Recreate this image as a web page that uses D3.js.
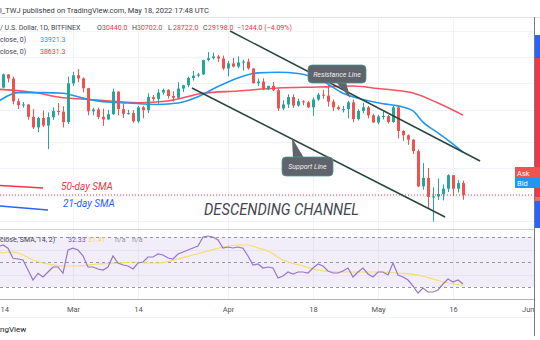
<!DOCTYPE html>
<html><head><meta charset="utf-8">
<script src="https://cdn.jsdelivr.net/npm/d3@7"></script>
<style>body{margin:0;background:#fff}svg{display:block;font-family:Roboto,"Open Sans",Arial,sans-serif}</style>
</head><body><svg id="c" width="540" height="340"></svg>
<script>
const dates = ["2022-02-14","2022-02-15","2022-02-16","2022-02-17","2022-02-18","2022-02-19","2022-02-20","2022-02-21","2022-02-22","2022-02-23","2022-02-24","2022-02-25","2022-02-26","2022-02-27","2022-02-28",
"2022-03-01","2022-03-02","2022-03-03","2022-03-04","2022-03-05","2022-03-06","2022-03-07","2022-03-08","2022-03-09","2022-03-10","2022-03-11","2022-03-12","2022-03-13","2022-03-14","2022-03-15","2022-03-16","2022-03-17","2022-03-18","2022-03-19","2022-03-20","2022-03-21","2022-03-22","2022-03-23","2022-03-24","2022-03-25","2022-03-26","2022-03-27","2022-03-28","2022-03-29","2022-03-30","2022-03-31",
"2022-04-01","2022-04-02","2022-04-03","2022-04-04","2022-04-05","2022-04-06","2022-04-07","2022-04-08","2022-04-09","2022-04-10","2022-04-11","2022-04-12","2022-04-13","2022-04-14","2022-04-15","2022-04-16","2022-04-17","2022-04-18","2022-04-19","2022-04-20","2022-04-21","2022-04-22","2022-04-23","2022-04-24","2022-04-25","2022-04-26","2022-04-27","2022-04-28","2022-04-29","2022-04-30",
"2022-05-01","2022-05-02","2022-05-03","2022-05-04","2022-05-05","2022-05-06","2022-05-07","2022-05-08","2022-05-09","2022-05-10","2022-05-11","2022-05-12","2022-05-13","2022-05-14","2022-05-15","2022-05-16","2022-05-17","2022-05-18"];
const opens = [42060,42540,44560,43900,40550,40000,40100,38400,37000,38250,37250,38350,39200,39100,37700,
43190,44420,43920,42450,39150,39400,38400,38050,38750,41950,39450,38800,38900,37800,39700,39300,41150,40900,41800,42200,41300,41050,42400,42900,44000,44350,44550,46850,47150,47450,47100,
45500,46300,45800,46450,46600,45500,43200,43450,42300,42800,42150,39550,40100,41150,39950,40550,40400,39700,40800,41500,41350,40500,39700,39450,39450,40400,38100,39200,39700,38600,
37650,38450,38500,37700,39700,36550,36000,35450,34050,30100,31000,29000,29050,29300,29850,31300,29850,30440];
const highs = [42800,44700,44600,44200,40950,40450,40150,39450,38400,39250,39000,39700,40300,39850,44200,
44950,45400,44100,42500,39650,39650,39500,39350,42400,42000,40250,39350,39300,39900,39900,41700,41450,42300,42400,42300,42000,43350,42950,44200,45100,44800,46900,48200,48100,47700,47600,
46700,47200,47450,46900,47100,45500,43900,43950,42800,43400,42400,40700,41550,41550,40900,40700,40600,41100,41750,42200,42900,40800,39950,39900,40600,40800,39450,40350,39900,38800,
38650,39150,38650,39900,39800,36650,36100,35500,34250,32650,32100,30000,30950,30300,31400,31300,30750,30702];
const lows = [41570,42430,43320,40100,39450,39650,38000,36800,36400,37050,34300,38000,38600,37000,37450,
42800,43350,41850,38600,38600,38100,37200,38000,38650,38600,38250,38700,37600,37600,38200,38900,40550,40150,41500,40950,40500,40900,41900,42600,43600,44100,44450,46650,46950,46550,45250,
44250,45650,45550,45150,45300,43150,42750,42150,42150,42000,39200,39300,39600,39600,39800,40000,39600,38550,40600,40900,39800,39200,39300,39000,38200,37700,37900,38900,38200,37600,
37400,38050,37500,37600,35600,35300,34800,33700,30000,29750,27800,26600,28700,28650,29500,29100,29450,28722];
const closes = [42540,44560,43900,40550,40000,40100,38400,37000,38250,37250,38350,39200,39100,37700,43190,
44420,43920,42450,39150,39400,38400,38050,38750,41950,39450,38800,38900,37800,39700,39300,41150,40900,41800,42200,41300,41050,42400,42900,44000,44350,44550,46850,47150,47450,47100,45500,
46300,45800,46450,46600,45500,43200,43450,42300,42800,42150,39550,40100,41150,39950,40550,40400,39700,40800,41500,41350,40500,39700,39450,39450,40400,38100,39200,39700,38600,37650,
38450,38500,37700,39700,36550,36000,35450,34050,30100,31000,29000,29050,29300,29850,31300,29850,30440,29198];

const sma21Dates = ["2022-02-14","2022-02-18","2022-02-23","2022-02-27","2022-03-03","2022-03-07","2022-03-12","2022-03-18","2022-03-22","2022-03-26","2022-03-30","2022-04-03","2022-04-07","2022-04-11","2022-04-15","2022-04-20","2022-04-24","2022-04-28","2022-05-02","2022-05-05","2022-05-08","2022-05-10","2022-05-13","2022-05-16","2022-05-18"];
const sma21Values = [40500,41800,41800,41700,41000,40500,40300,40100,40300,41200,42700,44000,44800,44900,44700,43500,41700,40800,40200,39900,39200,37700,36300,34900,33921];
const sma50Dates = ["2022-02-14","2022-02-22","2022-02-26","2022-03-06","2022-03-14","2022-03-20","2022-03-27","2022-04-03","2022-04-11","2022-04-19","2022-04-26","2022-05-01","2022-05-04","2022-05-08","2022-05-13","2022-05-18"];
const sma50Values = [42300,41740,41160,40730,40350,40600,41700,42040,42480,42630,42780,42400,42180,41740,40300,38631];

const rsiValues = [62,63.6,61,53,52.4,51.6,43.6,35.6,41,38,42,46,46,41,59.6,
61,59.6,55,46,46,44.4,43.6,46,54.8,49.2,47.6,46.8,44.4,49.2,50,54,54,56.4,55.6,53.2,52.4,56.4,58,59.6,61.2,62.8,70,70.8,70,67.6,61.2,
62,61.2,62,61,54.8,47.6,48.4,45.2,46,45.2,37.2,38.8,42,40.4,42,42,41.2,45.2,48.4,46.8,42.8,41.2,41.2,42.8,45.2,38,42,45.2,40.4,38,
42,42,39.6,49.2,39.6,38,35.6,30.8,25.2,29.2,26,26,27.6,32.4,36.4,34,35.6,32.33];
const rsiSmaDates = ["2022-02-14","2022-02-17","2022-02-19","2022-02-21","2022-02-24","2022-02-27","2022-03-02","2022-03-06","2022-03-10","2022-03-13","2022-03-16","2022-03-18","2022-03-22","2022-03-25","2022-03-28","2022-03-31","2022-04-03","2022-04-05","2022-04-07","2022-04-09","2022-04-12","2022-04-16","2022-04-19","2022-04-23","2022-04-27","2022-05-01","2022-05-05","2022-05-09","2022-05-12","2022-05-14","2022-05-18"];
const rsiSmaValues = [57.2,58,55.6,51.6,48.4,46.8,46.8,48.4,49.2,50,49.2,49.2,52.4,55.6,58.8,62,63.6,63.6,61.2,58.8,51.6,46.8,43.6,42,42,42,41.2,39.6,36.4,34,31.41];
const rsiLevels = [70,50,30];
const rsiGrid = [60,40];

const timeTicks = ["2022-02-14","2022-03-01","2022-03-14","2022-04-01","2022-04-18","2022-05-01","2022-05-16","2022-06-01"];
const timeLabels = ["14","Mar","14","Apr","18","May","16","Jun"];
const priceGrid = [26650,29100,32100,35150,39300,43250,47350,51950];

const resistance = {from:["2022-04-01T10:00:00Z",51870], to:["2022-05-21T10:00:00Z",32890]};
const support = {from:["2022-03-24T19:00:00Z",42480], to:["2022-05-14T10:00:00Z",27030]};
const lastClose = 29198;

const GREEN="#26a69a", RED="#ef5350";
const svg = d3.select("#c");
const parse = d3.utcParse("%Y-%m-%d");
const pIso = s => new Date(s);
const x = d3.scaleUtc().domain([parse("2022-03-01"), parse("2022-06-01")]).range([73,533]);
const y = d3.scaleLog().domain([25920,54480]).range([229,17]);
const yr = d3.scaleLinear().domain([20.4,75.6]).range([299,230]);

svg.append("rect").attr("width",540).attr("height",340).attr("fill","#fff");
const defs = svg.append("defs");
defs.append("clipPath").attr("id","mainclip").append("rect").attr("x",0).attr("y",17).attr("width",534).attr("height",212);
defs.append("clipPath").attr("id","rsiclip").append("rect").attr("x",0).attr("y",230).attr("width",534).attr("height",69);

// grids
const grid = svg.append("g");
grid.selectAll(".hg").data(priceGrid).join("line")
  .attr("x1",0).attr("x2",534).attr("y1",d=>Math.round(y(d))+0.5).attr("y2",d=>Math.round(y(d))+0.5)
  .attr("stroke","#f0f3fa").attr("stroke-width",1);
grid.selectAll(".vg").data(timeTicks.slice(0,7)).join("line")
  .attr("x1",d=>Math.round(x(parse(d)))+0.5).attr("x2",d=>Math.round(x(parse(d)))+0.5)
  .attr("y1",17).attr("y2",299).attr("stroke","#f0f3fa");

// RSI band
svg.append("rect").attr("x",0).attr("width",534).attr("y",yr(70)).attr("height",yr(30)-yr(70)).attr("fill","rgba(126,87,194,0.1)");
svg.selectAll(".rg").data(rsiGrid).join("line").attr("x1",0).attr("x2",534)
  .attr("y1",d=>Math.round(yr(d))+0.5).attr("y2",d=>Math.round(yr(d))+0.5).attr("stroke","#e6e2f2");
svg.selectAll(".rl").data(rsiLevels).join("line").attr("x1",0).attr("x2",534)
  .attr("y1",d=>Math.round(yr(d))+0.5).attr("y2",d=>Math.round(yr(d))+0.5)
  .attr("stroke","#9598a1").attr("stroke-dasharray","3,3");

// pane borders
svg.append("line").attr("x1",0).attr("x2",540).attr("y1",17.5).attr("y2",17.5).attr("stroke","#e0e3eb");
svg.append("line").attr("x1",0).attr("x2",534).attr("y1",229.5).attr("y2",229.5).attr("stroke","#d1d4dc");
svg.append("line").attr("x1",0).attr("x2",534).attr("y1",299.5).attr("y2",299.5).attr("stroke","#b2b5be");
svg.append("line").attr("x1",0).attr("x2",534).attr("y1",317.5).attr("y2",317.5).attr("stroke","#f0f3fa");

// main pane
const main = svg.append("g").attr("clip-path","url(#mainclip)");
main.append("line").attr("x1",0).attr("x2",534).attr("y1",y(lastClose)).attr("y2",y(lastClose))
  .attr("stroke","#f23645").attr("stroke-width",1).attr("stroke-dasharray","1,2");

const line = d3.line().curve(d3.curveMonotoneX);
main.append("path").attr("d",line(sma50Dates.map((d,i)=>[x(parse(d)),y(sma50Values[i])])))
  .attr("fill","none").attr("stroke","#f23645").attr("stroke-width",1.6).attr("opacity",0.85);
main.append("path").attr("d",line(sma21Dates.map((d,i)=>[x(parse(d)),y(sma21Values[i])])))
  .attr("fill","none").attr("stroke","#2196f3").attr("stroke-width",1.6);

const candles = dates.map((d,i)=>({t:parse(d),o:opens[i],h:highs[i],l:lows[i],c:closes[i]}));
const cg = main.append("g");
cg.selectAll(".w").data(candles).join("line")
  .attr("x1",d=>Math.round(x(d.t))+0.5).attr("x2",d=>Math.round(x(d.t))+0.5)
  .attr("y1",d=>y(d.h)).attr("y2",d=>y(d.l))
  .attr("stroke",d=>d.c>=d.o?GREEN:RED).attr("stroke-width",1);
cg.selectAll(".b").data(candles).join("rect")
  .attr("x",d=>Math.round(x(d.t))-1).attr("width",3)
  .attr("y",d=>y(Math.max(d.o,d.c))).attr("height",d=>Math.max(1,y(Math.min(d.o,d.c))-y(Math.max(d.o,d.c))))
  .attr("fill",d=>d.c>=d.o?GREEN:RED);

// channel lines
const tl = [resistance,support];
main.selectAll(".tl").data(tl).join("line")
  .attr("x1",d=>x(pIso(d.from[0]))).attr("y1",d=>y(d.from[1]))
  .attr("x2",d=>x(pIso(d.to[0]))).attr("y2",d=>y(d.to[1]))
  .attr("stroke","#27463c").attr("stroke-width",1.5);

// callouts
function callout(tipDate,tipPrice,bx,by,bw,bh,baseA,baseB,text){
  const tx=x(pIso(tipDate)), ty=y(tipPrice);
  const g=svg.append("g");
  g.append("path").attr("d",`M${baseA[0]},${baseA[1]}L${tx},${ty}L${baseB[0]},${baseB[1]}Z`).attr("fill","#5f636b");
  g.append("rect").attr("x",bx).attr("y",by).attr("width",bw).attr("height",bh).attr("rx",4)
    .attr("fill","#5f636b").attr("stroke","#4c9a94").attr("stroke-width",0.8);
  g.append("text").attr("x",bx+bw/2).attr("y",by+bh/2+2.5).attr("text-anchor","middle")
    .attr("font-size",7).attr("font-style","italic").attr("fill","#f0f0f0").text(text);
}
callout("2022-04-25T10:00:00Z",41020,308,65,58,18,[336,82],[346,82],"Resistance Line");
callout("2022-04-13T19:00:00Z",35670,282,157,51,19,[293,158],[304,158],"Support Line");

// SMA legend annotations
svg.append("line").attr("x1",0).attr("y1",185.5).attr("x2",43).attr("y2",188).attr("stroke","#f23645").attr("stroke-width",1.5);
svg.append("line").attr("x1",0).attr("y1",206).attr("x2",48).attr("y2",210).attr("stroke","#2962ff").attr("stroke-width",1.5);
svg.append("text").attr("x",61).attr("y",189.5).attr("font-size",10).attr("font-style","italic").attr("fill","#f23645").text("50-day SMA");
svg.append("text").attr("x",63).attr("y",207).attr("font-size",10).attr("font-style","italic").attr("fill","#2962ff").text("21-day SMA");
svg.append("text").attr("x",204).attr("y",215).attr("font-size",16).attr("font-style","italic").attr("fill","#434651")
  .attr("textLength",155).attr("lengthAdjust","spacingAndGlyphs").text("DESCENDING CHANNEL");

// RSI lines
const rsiG = svg.append("g").attr("clip-path","url(#rsiclip)");
rsiG.append("path").attr("d",d3.line().curve(d3.curveMonotoneX)(rsiSmaDates.map((d,i)=>[x(parse(d)),yr(rsiSmaValues[i])])))
  .attr("fill","none").attr("stroke","#f5dd6a").attr("stroke-width",1.2);
rsiG.append("path").attr("d",d3.line()(dates.map((d,i)=>[x(parse(d)),yr(rsiValues[i])])))
  .attr("fill","none").attr("stroke","#9575cd").attr("stroke-width",1.2);

// right axis strip
svg.append("rect").attr("x",534).attr("y",35).attr("width",6).attr("height",23).attr("fill","#2962ff");
svg.append("rect").attr("x",534).attr("y",58).attr("width",6).attr("height",139).attr("fill","#f23645");
svg.append("rect").attr("x",534).attr("y",197).attr("width",6).attr("height",4).attr("fill","#ef6a6a");
svg.append("rect").attr("x",534).attr("y",201).attr("width",6).attr("height",27).attr("fill","#2962ff");
svg.append("line").attr("x1",534.5).attr("x2",534.5).attr("y1",17).attr("y2",336).attr("stroke","#787b86");

// Ask / Bid
svg.append("rect").attr("x",515).attr("y",167).attr("width",25).attr("height",11).attr("fill","#ef5350");
svg.append("text").attr("x",517).attr("y",175.5).attr("font-size",7.5).attr("fill","#fff").text("Ask");
svg.append("rect").attr("x",515).attr("y",178).attr("width",25).attr("height",10).attr("fill","#2196f3");
svg.append("text").attr("x",517).attr("y",186).attr("font-size",7.5).attr("fill","#fff").text("Bid");

// time axis
const ax = svg.append("g").attr("transform","translate(0,299)")
  .call(d3.axisBottom(x).tickValues(timeTicks.map(parse)).tickFormat((d,i)=>timeLabels[i]).tickSize(0));
ax.select(".domain").remove();
ax.selectAll("text").attr("font-size",7.5).attr("fill","#50535e").attr("dy","1.35em").attr("font-family","Roboto,Arial,sans-serif");
ax.selectAll("text").filter((d,i)=>i===0).attr("text-anchor","start").attr("dx",2);
ax.selectAll("text").filter((d,i)=>i===timeLabels.length-1).attr("text-anchor","end").attr("dx",1);

// header & legends
const T = (xp,yp,txt,col,size,anchor)=>svg.append("text").attr("x",xp).attr("y",yp).attr("font-size",size||7).attr("fill",col||"#131722").attr("text-anchor",anchor||"start").text(txt);
T(0,12.5,"l_TWJ published on TradingView.com, May 18, 2022 17:48 UTC","#363a45",7.5);
T(0,29.5,"/ U.S. Dollar, 1D, BITFINEX","#434651",7);
const ohlc=[["O",97,"30440.0"],["H",132,"30702.0"],["L",168,"28722.0"],["C",203,"29198.0"]];
ohlc.forEach(([k,xp,v])=>{T(xp,29.5,k,"#434651");T(xp+5,29.5,v,"#f23645");});
T(237,29.5,"−1244.0 (−4.09%)","#f23645");
T(0,41.5,"close, 0)","#434651"); T(40,41.5,"33921.3","#2196f3");
T(0,53.5,"close, 0)","#434651"); T(40,53.5,"38631.3","#f23645");
T(0,241.5,"close, SMA, 14, 2)","#434651");
T(68,241.5,"32.33","#7e57c2"); T(88,241.5,"31.41","#f0d85a"); T(115,241.5,"n/a","#9598a1"); T(132,241.5,"n/a","#9598a1");
T(0,331.5,"ngView","#131722",8);
</script></body></html>
